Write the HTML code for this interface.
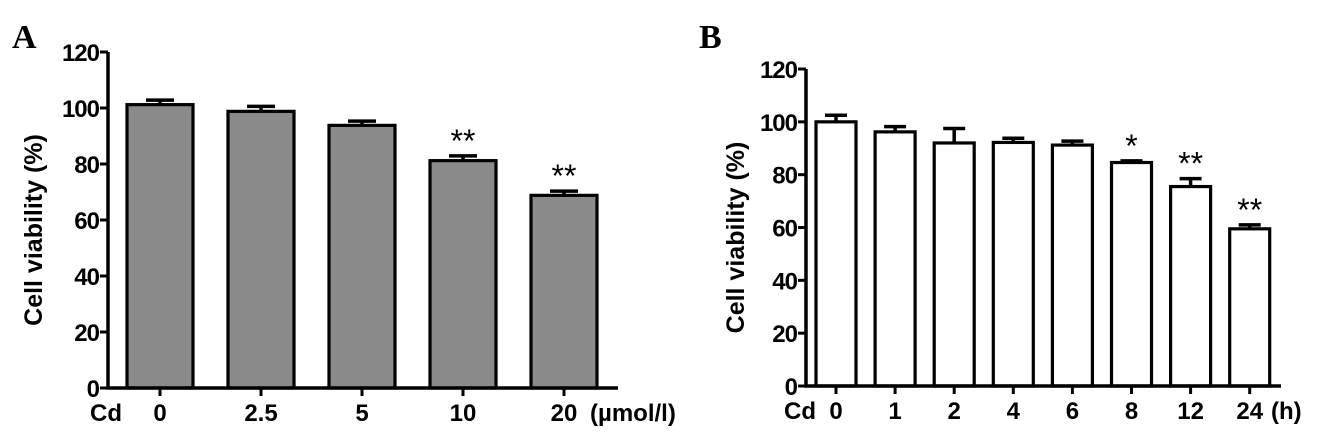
<!DOCTYPE html>
<html><head><meta charset="utf-8"><style>
body{margin:0;background:#fff;width:1319px;height:439px;overflow:hidden}
svg text{font-family:"Liberation Sans",Arial,sans-serif;font-weight:bold;fill:#000}
</style></head><body>
<svg id="chart" width="1319" height="439" viewBox="0 0 1319 439" xmlns="http://www.w3.org/2000/svg">
<text x="12" y="48" style="font-family:'Liberation Serif',serif;font-size:34px;font-weight:bold">A</text>
<text x="699" y="48" style="font-family:'Liberation Serif',serif;font-size:34px;font-weight:bold">B</text>
<g id="A"></g>
<g id="B"></g>
</svg>
<script>
const catsA = ["0","2.5","5","10","20"];
const valsA = [101.2, 98.8, 93.8, 81.2, 68.8];
const errA = [1.6, 1.8, 1.5, 1.7, 1.5];
const sigA = ["", "", "", "**", "**"];
const catsB = ["0","1","2","4","6","8","12","24"];
const valsB = [100, 96.2, 92, 92.2, 91.2, 84.6, 75.5, 59.5];
const errB = [2.5, 2, 5.5, 1.6, 1.5, 0.6, 3, 1.5];
const sigB = ["", "", "", "", "", "*", "**", "**"];
const yTicks = [0, 20, 40, 60, 80, 100, 120];

const NS = "http://www.w3.org/2000/svg";
function mk(parent, tag, attrs, txt) {
  const e = document.createElementNS(NS, tag);
  for (const k in attrs) e.setAttribute(k, attrs[k]);
  if (txt !== undefined) e.textContent = txt;
  parent.appendChild(e);
  return e;
}
function draw(g, cfg, cats, vals, errs, sigs) {
  const y = v => cfg.y0 - (v / 120) * (cfg.y0 - cfg.y120);
  const x = i => cfg.c0 + i * cfg.step;
  cats.forEach((c, i) => {
    const top = y(vals[i]);
    const eb = mk(g, "path", {d: `M${x(i)} ${top} V${y(vals[i] + errs[i])} M${x(i) - cfg.capw} ${y(vals[i] + errs[i])} H${x(i) + cfg.capw}`, stroke: "#000", "stroke-width": 3.5, fill: "none"});
    
    
    const r = mk(g, "rect", {x: x(i) - cfg.bw / 2, y: top, width: cfg.bw, height: cfg.y0 - top, fill: cfg.fill, stroke: "#000", "stroke-width": 3.2});
    
    
    if (sigs[i]) {
      const s = mk(g, "text", {x: x(i), y: y(vals[i] + errs[i]) - 4, "text-anchor": "middle", style: "font-size:32px;font-weight:normal"}, sigs[i]);
      
      
    }
    const t = mk(g, "text", {x: x(i), y: cfg.y0 + 33, "text-anchor": "middle", style: "font-size:24px"}, c);
    
    
    const tk = mk(g, "line", {x1: x(i), x2: x(i), y1: cfg.y0, y2: cfg.y0 + 8, stroke: "#000", "stroke-width": 3});
    
    
  });
  const ax = mk(g, "path", {d: `M${cfg.ax} ${cfg.y120} V${cfg.y0} H${cfg.xend}`, stroke: "#000", "stroke-width": 3.5, fill: "none"});
  
  
  yTicks.forEach(v => {
    const l = mk(g, "line", {x1: cfg.ax - 8, x2: cfg.ax, y1: y(v), y2: y(v), stroke: "#000", "stroke-width": 3});
    
    
    const t = mk(g, "text", {x: cfg.ax - 9, y: y(v) + 9, "text-anchor": "end", style: "font-size:24px;letter-spacing:-1px"}, String(v));
    
    
  });
  const yt = mk(g, "text", {transform: `translate(${cfg.tx},${(cfg.y0 + cfg.y120) / 2 + 10}) rotate(-90)`, "text-anchor": "middle", style: "font-size:25px"}, "Cell viability (%)");
  
  
  const cd = mk(g, "text", {x: cfg.cdx, y: cfg.y0 + 33, style: "font-size:24px"}, "Cd");
  
  
  const un = mk(g, "text", {x: cfg.unx, y: cfg.y0 + 33, style: "font-size:24px"}, cfg.unit);
  
  
}
draw(document.getElementById("A"), {y0: 388, y120: 52, ax: 108, xend: 618, c0: 160, step: 101, bw: 66, capw: 14, fill: "#8a8a8a", tx: 42, cdx: 90, unx: 590, unit: "(\u00b5mol/l)"}, catsA, valsA, errA, sigA);
draw(document.getElementById("B"), {y0: 386, y120: 69, ax: 806, xend: 1281, c0: 836, step: 59.1, bw: 40, capw: 11, fill: "#fff", tx: 744, cdx: 784, unx: 1271, unit: "(h)"}, catsB, valsB, errB, sigB);
</script>
</body></html>
